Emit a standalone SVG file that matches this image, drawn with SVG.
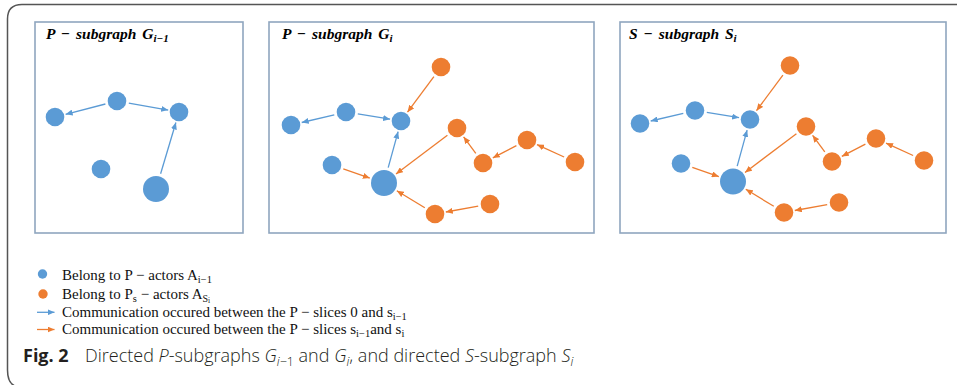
<svg xmlns="http://www.w3.org/2000/svg" width="957" height="385" viewBox="0 0 957 385">
<defs>
<marker id="ab" viewBox="0 0 7 6" refX="7" refY="3" markerWidth="7" markerHeight="6" markerUnits="userSpaceOnUse" orient="auto"><path d="M0,0 L7,3 L0,6 z" fill="#5b9bd5"/></marker>
<marker id="ao" viewBox="0 0 7 6" refX="7" refY="3" markerWidth="7" markerHeight="6" markerUnits="userSpaceOnUse" orient="auto"><path d="M0,0 L7,3 L0,6 z" fill="#ed7d31"/></marker>
</defs>
<style>
.frame{fill:none;stroke:#555;stroke-width:1.5}
.panel{fill:#fff;stroke:#8fa6bf;stroke-width:1.6}
.title{font-family:"Liberation Serif",serif;font-weight:bold;font-style:italic;font-size:15.5px;fill:#000;word-spacing:2px}
.b{fill:#5b9bd5}
.o{fill:#ed7d31}
.eb{stroke:#5b9bd5;stroke-width:1.3;fill:none;marker-end:url(#ab)}
.eo{stroke:#ed7d31;stroke-width:1.3;fill:none;marker-end:url(#ao)}
.leg{font-family:"Liberation Serif",serif;font-size:15px;fill:#111}
.cap{font-family:"Open Sans",sans-serif;font-size:18px;fill:#231f20}
</style>
<rect width="957" height="385" fill="#fff"/>
<path class="frame" d="M957,4.5 H22 Q7.5,4.5 7.5,19 V370 Q7.5,383 15,386"/>

<g id="panel1">
<rect class="panel" x="35" y="22" width="208" height="211"/>
<text class="title" x="46" y="39">P − subgraph G<tspan font-size="11px" dy="3">i−1</tspan></text>
</g>
<g id="panel2">
<rect class="panel" x="269" y="22" width="325" height="211"/>
<text class="title" x="282" y="39">P − subgraph G<tspan font-size="11px" dy="3">i</tspan></text>
</g>
<g id="panel3">
<rect class="panel" x="620" y="22" width="326" height="211"/>
<text class="title" x="629" y="39">S − subgraph S<tspan font-size="11px" dy="3">i</tspan></text>
</g>

<g id="connectors">
<!-- panel 1 -->
<line class="eb" x1="105.4" y1="104" x2="65.6" y2="114.3"/>
<line class="eb" x1="128.8" y1="103.1" x2="168.2" y2="110.1"/>
<line class="eb" x1="160.6" y1="173.7" x2="175.9" y2="122.5"/>
<!-- panel 2 -->
<line class="eb" x1="334.3" y1="114.8" x2="301.7" y2="122.5"/>
<line class="eb" x1="357.8" y1="113.9" x2="390.1" y2="119.2"/>
<line class="eb" x1="388.2" y1="167.6" x2="398.1" y2="131.6"/>
<line class="eo" x1="433.9" y1="76.6" x2="407.5" y2="112.2"/>
<line class="eo" x1="343.3" y1="168.9" x2="369.8" y2="178.1"/>
<line class="eo" x1="447.4" y1="135.2" x2="396" y2="174"/>
<line class="eo" x1="424.8" y1="207.8" x2="396.8" y2="190.8"/>
<line class="eo" x1="478.2" y1="206.1" x2="445.8" y2="212"/>
<line class="eo" x1="475.8" y1="153.4" x2="463.6" y2="136.8"/>
<line class="eo" x1="516.4" y1="145.6" x2="492.8" y2="157.9"/>
<line class="eo" x1="564.1" y1="157" x2="537" y2="144.6"/>
<!-- panel 3 -->
<line class="eb" x1="683.3" y1="113.3" x2="650.7" y2="121"/>
<line class="eb" x1="706.8" y1="112.4" x2="739.1" y2="117.7"/>
<line class="eb" x1="737.2" y1="166.1" x2="747.1" y2="130.1"/>
<line class="eo" x1="782.9" y1="75.1" x2="756.5" y2="110.7"/>
<line class="eo" x1="692.3" y1="167.4" x2="718.8" y2="176.6"/>
<line class="eo" x1="796.4" y1="133.7" x2="745" y2="172.5"/>
<line class="eo" x1="773.8" y1="206.3" x2="745.8" y2="189.3"/>
<line class="eo" x1="827.2" y1="204.6" x2="794.8" y2="210.5"/>
<line class="eo" x1="824.8" y1="151.9" x2="812.6" y2="135.3"/>
<line class="eo" x1="865.4" y1="144.1" x2="841.8" y2="156.4"/>
<line class="eo" x1="913.1" y1="155.5" x2="886" y2="143.1"/>
<!-- legend -->
<line class="eb" x1="37" y1="312.3" x2="54.5" y2="312.3"/>
<line class="eo" x1="37" y1="329.5" x2="54.5" y2="329.5"/>
</g>

<!-- panel 1 nodes -->
<g id="p1-n1"><circle class="b" cx="55" cy="117" r="9.3"/></g>
<g id="p1-n2"><circle class="b" cx="117" cy="101" r="9.3"/></g>
<g id="p1-n3"><circle class="b" cx="179" cy="112" r="9.3"/></g>
<g id="p1-n4"><circle class="b" cx="101" cy="169" r="9.3"/></g>
<g id="p1-n5"><circle class="b" cx="156" cy="189" r="13"/></g>
<!-- panel 2 nodes -->
<g id="p2-b1"><circle class="b" cx="291" cy="125" r="9.3"/></g>
<g id="p2-b2"><circle class="b" cx="346" cy="112" r="9.3"/></g>
<g id="p2-b3"><circle class="b" cx="401" cy="121" r="9.3"/></g>
<g id="p2-b4"><circle class="b" cx="332" cy="165" r="9.3"/></g>
<g id="p2-b5"><circle class="b" cx="384" cy="183" r="13"/></g>
<g id="p2-o1"><circle class="o" cx="441" cy="67" r="9.3"/></g>
<g id="p2-o2"><circle class="o" cx="457" cy="128" r="9.3"/></g>
<g id="p2-o3"><circle class="o" cx="483" cy="163" r="9.3"/></g>
<g id="p2-o4"><circle class="o" cx="527" cy="140" r="9.3"/></g>
<g id="p2-o5"><circle class="o" cx="575" cy="162" r="9.3"/></g>
<g id="p2-o6"><circle class="o" cx="490" cy="204" r="9.3"/></g>
<g id="p2-o7"><circle class="o" cx="435" cy="214" r="9.3"/></g>
<!-- panel 3 nodes -->
<g id="p3-b1"><circle class="b" cx="640" cy="123.5" r="9.3"/></g>
<g id="p3-b2"><circle class="b" cx="695" cy="110.5" r="9.3"/></g>
<g id="p3-b3"><circle class="b" cx="750" cy="119.5" r="9.3"/></g>
<g id="p3-b4"><circle class="b" cx="681" cy="163.5" r="9.3"/></g>
<g id="p3-b5"><circle class="b" cx="733" cy="181.5" r="13"/></g>
<g id="p3-o1"><circle class="o" cx="790" cy="65.5" r="9.3"/></g>
<g id="p3-o2"><circle class="o" cx="806" cy="126.5" r="9.3"/></g>
<g id="p3-o3"><circle class="o" cx="832" cy="161.5" r="9.3"/></g>
<g id="p3-o4"><circle class="o" cx="876" cy="138.5" r="9.3"/></g>
<g id="p3-o5"><circle class="o" cx="924" cy="160.5" r="9.3"/></g>
<g id="p3-o6"><circle class="o" cx="839" cy="202.5" r="9.3"/></g>
<g id="p3-o7"><circle class="o" cx="784" cy="212.5" r="9.3"/></g>

<g id="legend">
<circle class="b" cx="42.5" cy="274" r="4.7"/>
<circle class="o" cx="43" cy="294" r="4.7"/>
<text class="leg" x="62" y="280">Belong to P − actors A<tspan font-size="10.5px" dy="3">i−1</tspan></text>
<text class="leg" x="62" y="299">Belong to P<tspan font-size="10.5px" dy="3">s</tspan><tspan dy="-3"> − actors A</tspan><tspan font-size="10px" dy="2.5">S</tspan><tspan font-size="7.5px" dy="1.5">i</tspan></text>
<text class="leg" x="62" y="316.5">Communication occured between the P − slices 0 and s<tspan font-size="10.5px" dy="3">i−1</tspan></text>
<text class="leg" x="62" y="334">Communication occured between the P − slices s<tspan font-size="10.5px" dy="3">i−1</tspan><tspan dy="-3">and s</tspan><tspan font-size="10.5px" dy="3">i</tspan></text>
</g>

<g id="caption">
<text class="cap" x="23" y="362"><tspan font-weight="bold">Fig. 2</tspan><tspan x="85" font-weight="300">Directed <tspan font-style="italic">P</tspan>-subgraphs <tspan font-style="italic">G</tspan><tspan font-size="12.5px" dy="4"><tspan font-style="italic">i</tspan>−1</tspan><tspan dy="-4"> and </tspan><tspan font-style="italic">G</tspan><tspan font-size="12.5px" font-style="italic" dy="4">i</tspan><tspan dy="-4">, and directed </tspan><tspan font-style="italic">S</tspan>-subgraph <tspan font-style="italic">S</tspan><tspan font-size="12.5px" font-style="italic" dy="4">i</tspan></tspan></text>
</g>
</svg>
